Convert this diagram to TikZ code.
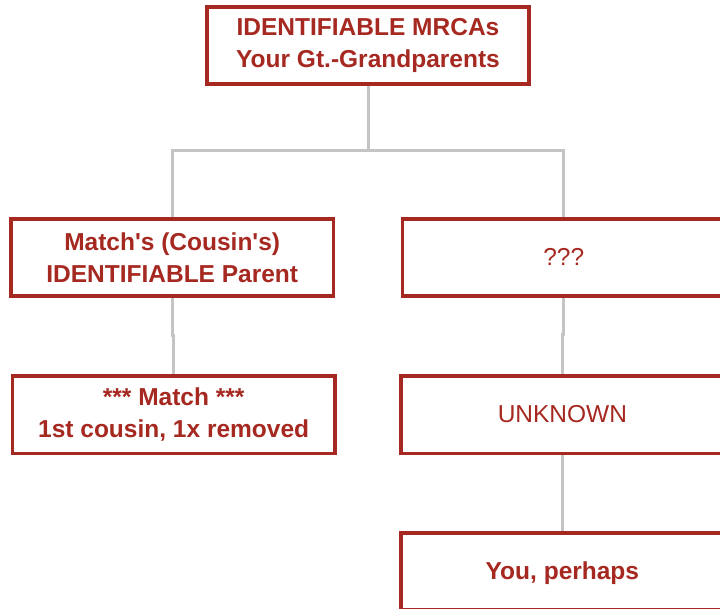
\documentclass[tikz,border=0pt]{standalone}
\usepackage{fontspec}
\setmainfont{Liberation Sans}[Ligatures=TeXOff]
\usetikzlibrary{calc}
\definecolor{boxred}{RGB}{166,41,33}
\definecolor{linkgray}{RGB}{196,196,196}
\tikzset{
  person/.style={draw=boxred, line width=3.6pt, fill=white, text=boxred,
    minimum width=322.5pt, minimum height=77pt, inner sep=0pt,
    align=center, font=\fontsize{24.5}{32}\selectfont\bfseries},
  oneline/.style={text height=16pt, text depth=0pt},
  plain/.style={font=\fontsize{24.5}{32}\selectfont\mdseries},
  link/.style={draw=linkgray, line width=3pt, line join=miter}
}
\begin{document}
\begin{tikzpicture}[x=1pt, y=-1pt]
  \useasboundingbox (0,0) rectangle (720,609);
  \clip (0,0) rectangle (720,609);

  % family tree connectors
  \coordinate (bus) at (368,151);
  \coordinate (bus left) at (172.2,151);
  \coordinate (bus right) at (563.2,151);
  \draw[link] (368,83) -- (bus);
  \draw[link] (172.2,219) -- (bus left) -- (bus right) -- (563.2,219);
  \draw[link] (172.2,296) |- (173,336) -| (173.7,376);
  \draw[link] (563.2,296) |- (562.8,335) -| (562.4,376);
  \draw[link] (562.4,453) -- (562.4,533);

  % generations
  \node[person] (mrca)    at (368,45.5)    {IDENTIFIABLE MRCAs\\Your Gt.-Grandparents};
  \node[person] (parent)  at (172.2,257.6) {Match's (Cousin's)\\IDENTIFIABLE Parent};
  \node[person, plain, oneline] (unknownparent) at (563.7,257.6) {???};
  \node[person] (match)   at (173.7,414.8) {*** Match ***\\1st cousin, 1x removed};
  \node[person, plain, oneline] (unknown) at (562.4,414.8) {UNKNOWN};
  \node[person, oneline] (you) at (562.4,571.5) {You, perhaps};
\end{tikzpicture}
\end{document}
